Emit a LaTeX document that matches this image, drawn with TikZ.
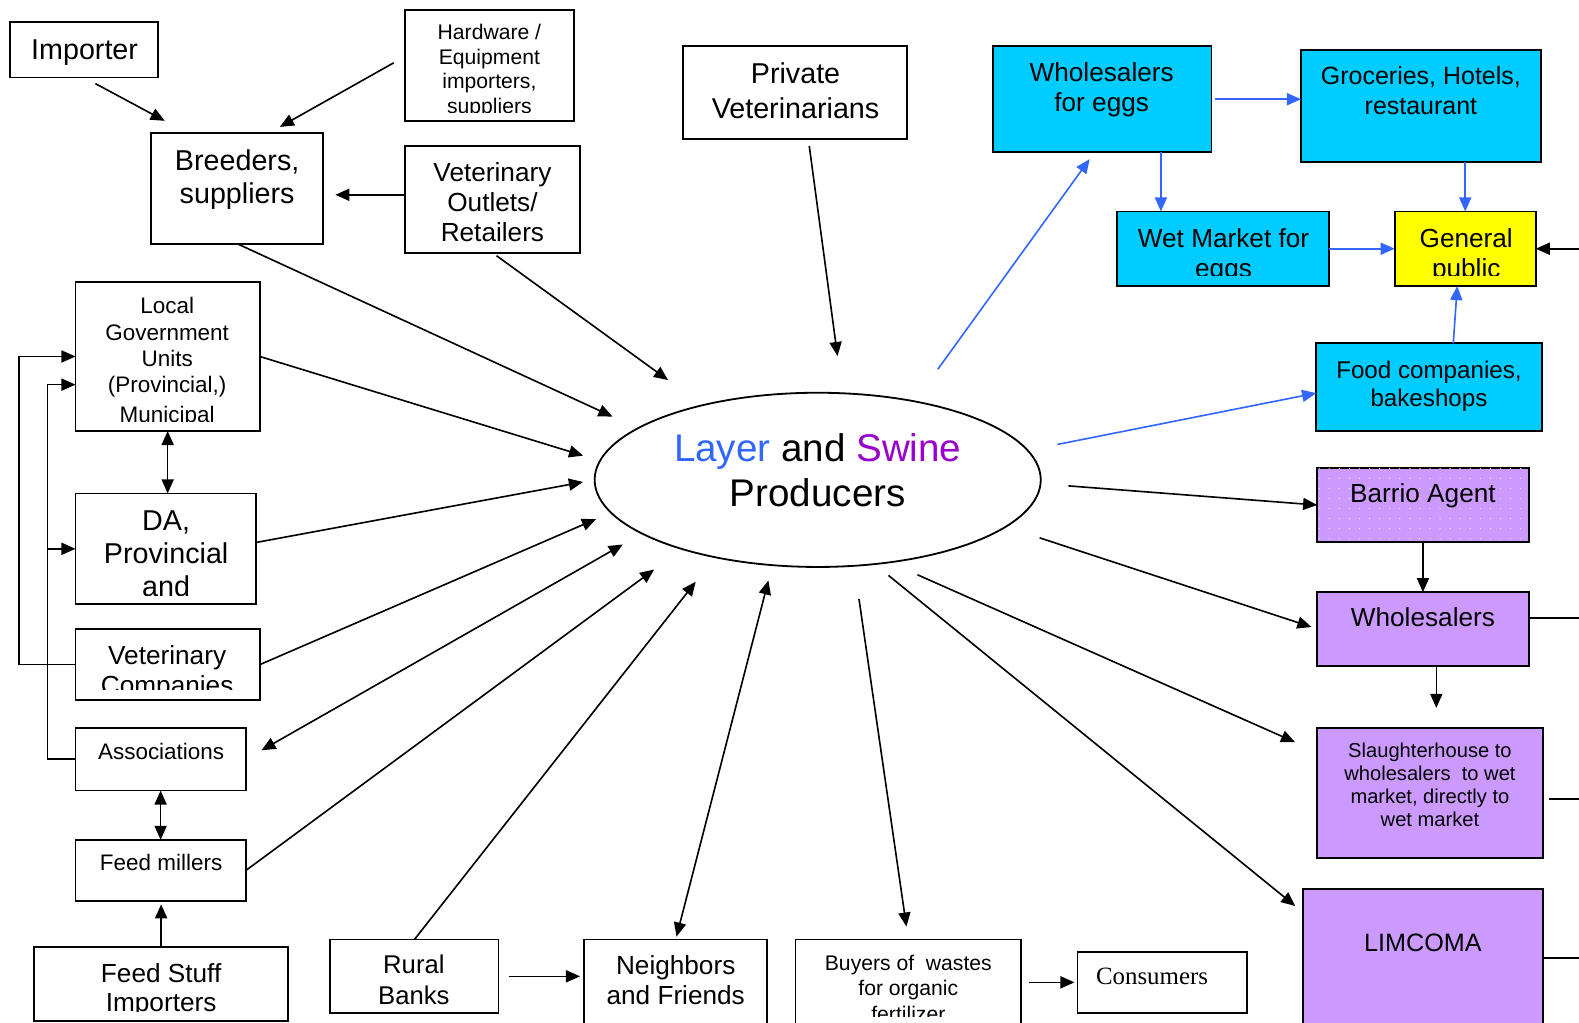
\documentclass[tikz,border=0pt]{standalone}
\usepackage{fontspec}
\setmainfont{Liberation Sans}
\newfontfamily\timesfont{Liberation Serif}
\usepackage{xcolor}
\usetikzlibrary{arrows.meta,shapes.geometric,patterns}

\definecolor{cyanbox}{HTML}{00CCFF}
\definecolor{purplebox}{HTML}{CC99FF}
\definecolor{yellowbox}{HTML}{FFFF00}
\definecolor{bluelink}{HTML}{3366FF}
\definecolor{swinepurple}{HTML}{9900CC}

\pgfdeclarepatternformonly{sparsedots}{\pgfqpoint{-1pt}{-1pt}}{\pgfqpoint{1pt}{1pt}}{\pgfqpoint{10pt}{10pt}}{%
  \pgfpathcircle{\pgfqpoint{0pt}{0pt}}{0.7pt}\pgfusepath{fill}}

\tikzset{
  box/.style={draw, line width=1.8pt, inner sep=0pt, outer sep=0pt},
  arr/.style={line width=1.6pt, -{Triangle[length=14pt,width=12pt]}},
  dblarr/.style={line width=1.6pt, {Triangle[length=14pt,width=12pt]}-{Triangle[length=14pt,width=12pt]}},
  bluearr/.style={line width=1.6pt, bluelink, -{Triangle[length=14pt,width=12pt]}},
  link/.style={line width=1.6pt},
  txt/.style={align=center, inner sep=0pt},
  big/.style={txt, font=\fontsize{28.5}{33}\selectfont},
  mid/.style={txt, font=\fontsize{26}{30}\selectfont},
  small/.style={txt, font=\fontsize{22.3}{26}\selectfont},
  tiny/.style={txt, font=\fontsize{21}{24.5}\selectfont},
}

\begin{document}
\begin{tikzpicture}[x=1pt,y=-1pt]
\path[use as bounding box] (0,0) rectangle (1568,1015);
\clip (0,0) rectangle (1568,1015);

% Boxes on the input side
\node[box, minimum width=147, minimum height=55] (importer) at (83.5,49.5) {};
\node[box, minimum width=168, minimum height=110] (hardware) at (486,65) {};
\node[box, minimum width=171, minimum height=110] (breeders) at (235.5,187) {};
\node[box, minimum width=174, minimum height=106] (vetout) at (489,198) {};
\node[box, minimum width=223, minimum height=92] (privet) at (789.5,92) {};
\node[box, minimum width=183, minimum height=148] (lgu) at (166.5,354) {};
\node[box, minimum width=179, minimum height=110] (da) at (164.5,545) {};
\node[box, minimum width=183, minimum height=70] (vetco) at (166.5,660) {};
\node[box, minimum width=169, minimum height=62] (assoc) at (159.5,754) {};
\node[box, minimum width=169, minimum height=61] (feed) at (159.5,864.5) {};
\node[box, minimum width=252, minimum height=74] (stuff) at (160,977) {};
\node[box, minimum width=167, minimum height=73] (rural) at (411.5,969.5) {};
\node[box, minimum width=182, minimum height=107] (neighbors) at (671,986.5) {};
\node[box, minimum width=224, minimum height=107] (buyers) at (902,986.5) {};
\node[box, minimum width=168, minimum height=61] (consumers) at (1154,975.5) {};

% Egg side
\node[box, fill=cyanbox, minimum width=217, minimum height=105] (wegg) at (1094.5,98.5) {};
\node[box, fill=cyanbox, minimum width=238, minimum height=111] (groc) at (1411,105.5) {};
\node[box, fill=cyanbox, minimum width=211, minimum height=74] (wetmkt) at (1214.5,247) {};
\node[box, fill=yellowbox, minimum width=140, minimum height=74] (general) at (1455,247) {};
\node[box, fill=cyanbox, minimum width=224, minimum height=87] (food) at (1419,384.5) {};

% Swine side
\node[box, fill=purplebox, postaction={pattern=sparsedots, pattern color=white!70!purplebox},
  minimum width=210, minimum height=73] (barrio) at (1413,501.5) {};
\node[box, fill=purplebox, minimum width=210, minimum height=73] (whole) at (1413,624.5) {};
\node[box, fill=purplebox, minimum width=224, minimum height=129] (slaughter) at (1420,787.5) {};
\node[box, fill=purplebox, minimum width=238, minimum height=157] (limcoma) at (1413,961.5) {};

% Producers
\node[ellipse, draw, line width=1.8pt, inner sep=0pt, outer sep=0pt,
  minimum width=443, minimum height=173] (prod) at (812,476.5) {};
\node[txt, font=\fontsize{38.3}{44}\selectfont] (t-prod) at (812,467)
  {\textcolor{bluelink}{Layer} and \textcolor{swinepurple}{Swine}\\Producers};

% Texts
\node[big] (t-importer) at (84,52.5) {Importer};
\begin{scope}
  \clip (hardware.north west) rectangle ([yshift=8pt]hardware.south east);
  \node[tiny] (t-hardware) at (486,70.5) {Hardware /\\Equipment\\importers,\\suppliers};
\end{scope}
\node[big] (t-breeders) at (235.5,178.5) {Breeders,\\suppliers};
\node[mid] (t-vetout) at (489,201) {Veterinary\\Outlets/\\Retailers};
\node[big, font=\fontsize{28.5}{34}\selectfont] (t-privet) at (790,90) {Private\\Veterinarians};
\begin{scope}
  \clip (lgu.north west) rectangle ([yshift=9pt]lgu.south east);
  \node[small] (t-lgu) at (166,360) {Local\\Government\\Units\\(Provincial,)\\[4pt]Municipal};
\end{scope}
\begin{scope}
  \clip (da.north west) rectangle ([yshift=9pt]da.south east);
  \node[big] (t-da) at (165,550) {DA,\\Provincial\\and};
\end{scope}
\begin{scope}
  \clip (vetco.north west) rectangle ([yshift=10pt]vetco.south east);
  \node[mid, font=\fontsize{26}{29}\selectfont] (t-vetco) at (166,668) {Veterinary\\Companies};
\end{scope}
\node[small] (t-assoc) at (160,746) {Associations};
\node[small] (t-feed) at (160,856) {Feed millers};
\begin{scope}
  \clip (stuff.north west) rectangle ([yshift=10pt]stuff.south east);
  \node[mid, font=\fontsize{26}{29}\selectfont] (t-stuff) at (160,983.5) {Feed Stuff\\Importers};
\end{scope}
\node[mid, font=\fontsize{25.5}{30}\selectfont] (t-rural) at (411,973) {Rural\\Banks};
\node[mid] (t-neighbors) at (671,973) {Neighbors\\and Friends};
\begin{scope}
  \clip (buyers.north west) rectangle ([yshift=31pt]buyers.south east);
  \node[tiny, font=\fontsize{21}{25}\selectfont] (t-buyers) at (902,981.5) {Buyers of~ wastes\\for organic\\fertilizer};
\end{scope}
\node[txt, font=\timesfont\fontsize{24.7}{28}\selectfont] (t-consumers) at (1144,970) {Consumers};
\node[mid] (t-wegg) at (1094,89) {Wholesalers\\for eggs};
\node[mid, font=\fontsize{24.8}{30}\selectfont] (t-groc) at (1411,90) {Groceries, Hotels,\\restaurant};
\begin{scope}
  \clip (wetmkt.north west) rectangle ([yshift=10pt]wetmkt.south east);
  \node[mid] (t-wetmkt) at (1215,254) {Wet Market for\\eggs};
\end{scope}
\begin{scope}
  \clip (general.north west) rectangle ([yshift=10pt]general.south east);
  \node[mid] (t-general) at (1456,254) {General\\public};
\end{scope}
\node[mid, font=\fontsize{24}{27}\selectfont] (t-food) at (1419,383.5) {Food companies,\\bakeshops};
\node[mid] (t-barrio) at (1413,492) {Barrio Agent};
\node[mid] (t-whole) at (1413,613) {Wholesalers};
\node[txt, font=\fontsize{20}{23}\selectfont] (t-slaughter) at (1420,779.5)
  {Slaughterhouse to\\wholesalers~ to wet\\market, directly to\\wet market};
\node[mid, font=\fontsize{25}{30}\selectfont] (t-limcoma) at (1413,936) {LIMCOMA};

% Supply of breeders
\draw[arr, shorten <=12.7pt, shorten >=25.4pt] (importer.south) -- (breeders.132);
\draw[arr, shorten <=12.6pt, shorten >=12.2pt] (hardware.174) -- (breeders.60);
\draw[arr, shorten >=12pt] (vetout.177) -- (vetout.177 -| breeders.east);

% Into the producers
\draw[arr, shorten >=27.8pt] (breeders.south) -- (prod.164);
\draw[arr, shorten <=5pt, shorten >=42.5pt] (vetout.south) -- (prod.147);
\draw[arr, shorten <=7pt, shorten >=37.3pt] (privet.286) -- (prod.74.5);
\draw[arr, shorten >=17.6pt] (lgu.east) -- (prod.175);
\draw[arr, shorten >=11.8pt] (da.4) -- (prod.180);
\draw[arr, shorten >=16.2pt] (vetco.east) -- (prod.189);
\draw[dblarr, shorten <=18pt, shorten >=22pt] (assoc.east) -- (prod.197);
\draw[arr, shorten >=34.4pt] (feed.east) -- (prod.207);
\draw[arr, shorten >=31pt] (rural.north) -- (prod.217);
\draw[dblarr, shorten <=3pt, shorten >=15.7pt] (neighbors.north) -- (prod.242);

% Out of the producers
\draw[arr, shorten <=33.3pt, shorten >=13pt] (prod.293) -- (buyers.north);
\draw[arr, shorten <=27.8pt] (prod.359) -- (barrio.west);
\draw[arr, shorten <=35.4pt, shorten >=6pt] (prod.346) -- (whole.west);
\draw[arr, shorten <=30.5pt, shorten >=24pt] (prod.311) -- (slaughter.160);
\draw[arr, shorten <=17.8pt, shorten >=10pt] (prod.304) -- (limcoma.155);

% Eggs
\draw[bluearr, shorten <=39.4pt, shorten >=8.7pt] (prod.39.5) -- (wegg.262);
\draw[bluearr, shorten <=30.1pt] (prod.8) -- (food.183);
\draw[bluearr, shorten <=4pt] (wegg.east) -- (wegg.east -| groc.west);
\draw[bluearr] (wegg.318) -- (wegg.318 |- wetmkt.north);
\draw[bluearr] (general.north |- groc.south) -- (general.north);
\draw[bluearr] (wetmkt.east) -- (general.west);
\draw[bluearr] (food.61) -- (general.258);

% Swine chain
\draw[arr] (barrio.south) -- (whole.north);
\draw[arr, shorten >=20pt] (whole.290) -- (whole.290 |- slaughter.north);

% Left column
\draw[dblarr] (lgu.south) -- (lgu.south |- da.north);
\draw[dblarr] (assoc.south) -- (feed.north);
\draw[arr, shorten >=3pt] (stuff.north) -- (stuff.north |- feed.south);
\draw[arr] (vetco.west) -- ++(-56,0) |- (lgu.west);
\draw[arr] (assoc.west) -- ++(-28,0) coordinate (assocturn) |- (lgu.197);
\draw[arr] (assocturn |- da.west) -- (da.west);

% Bottom row
\draw[arr, shorten <=10pt, shorten >=4pt] (rural.east) -- (rural.east -| neighbors.west);
\draw[arr, shorten <=8pt, shorten >=3pt] (consumers.west -| buyers.east) -- (consumers.west);

% Lines running off the right edge
\coordinate (rightedge) at (1600,0);
\draw[arr] (general.east -| rightedge) -- (general.east);
\draw[link] (whole.6) -- (whole.6 -| rightedge);
\draw[link, shorten <=6pt] (slaughter.-3) -- (slaughter.-3 -| rightedge);
\draw[link] (limcoma.5.5) -- (limcoma.5.5 -| rightedge);
\end{tikzpicture}
\end{document}
